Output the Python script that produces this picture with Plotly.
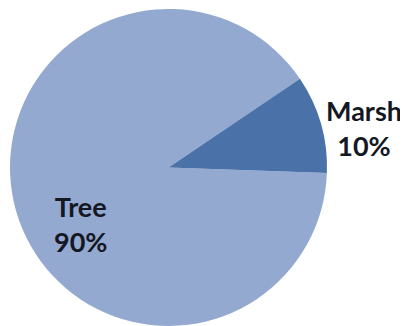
import plotly.graph_objects as go

categories = ["Tree", "Marsh"]
values = [90, 10]
colors = ["#94A9D0", "#4A72A9"]

total = sum(values)
percents = [v / total * 100 for v in values]

fig = go.Figure(go.Pie(
    labels=categories,
    values=values,
    sort=False,
    direction="counterclockwise",
    rotation=92,
    marker=dict(colors=colors, line=dict(width=0)),
    textinfo="none",
    showlegend=False,
    domain=dict(x=[0, 317 / 398], y=[0, 1]),
    hoverinfo="none",
))

label_pos = {"Tree": (0.178, 0.322), "Marsh": (0.889, 0.625)}
for cat, pct in zip(categories, percents):
    x, y = label_pos[cat]
    fig.add_annotation(
        x=x, y=y, xref="paper", yref="paper",
        text=f"{cat}<br>{pct:.0f}%",
        showarrow=False, align="center",
        xanchor="center", yanchor="middle",
        font=dict(family="Lato", size=27, color="#141824", weight=700),
    )

fig.update_layout(
    width=400, height=318,
    margin=dict(l=2, r=0, t=1, b=0),
    paper_bgcolor="white",
    plot_bgcolor="white",
)

fig.write_html("out.html", config={"displayModeBar": False})
